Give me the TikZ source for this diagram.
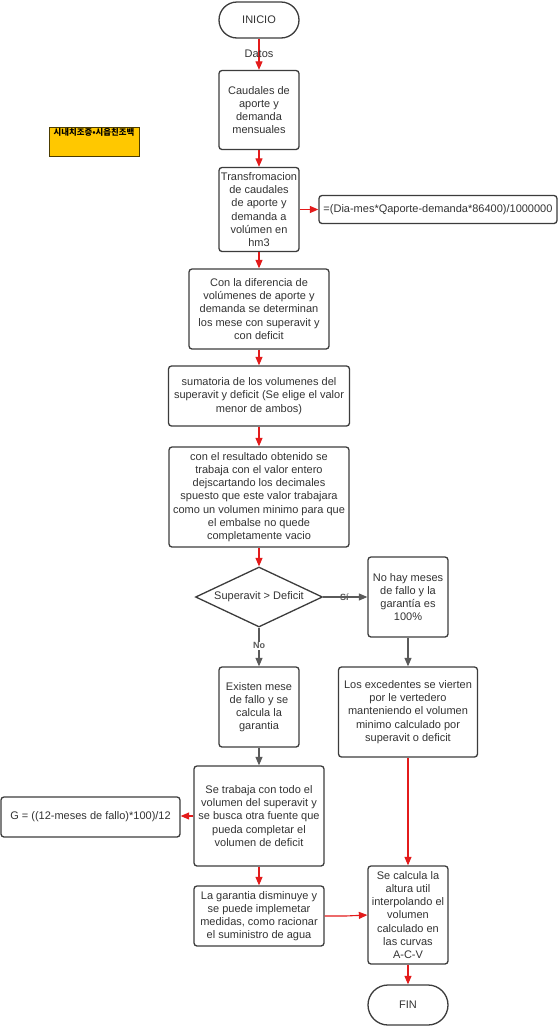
\documentclass[tikz,border=0pt]{standalone}
\usepackage{fontspec}
\setmainfont{Liberation Sans}
\newfontfamily\krfont{Noto Sans CJK KR}
\usetikzlibrary{arrows.meta,shapes.geometric}
\definecolor{redline}{HTML}{E31B1B}
\definecolor{grayline}{HTML}{5A5A5A}
\definecolor{boxline}{HTML}{3C3C3C}
\definecolor{txt}{HTML}{333333}
\definecolor{yel}{HTML}{FFC800}
\begin{document}
\begin{tikzpicture}[x=1pt,y=-1pt,
  box/.style={draw=boxline, line width=1.3pt, rounded corners=3pt, fill=white,
    align=center, font=\fontsize{11}{13.2}\selectfont, text=txt, inner sep=0pt},
  term/.style={box, rounded corners=18pt},
  decision/.style={box, shape=diamond, rounded corners=0pt, aspect=2.1},
  redarrow/.style={draw=redline, line width=1.1pt, -{Triangle[length=8.5pt,width=7pt]}},
  grayarrow/.style={draw=grayline, line width=1.1pt, -{Triangle[length=8.5pt,width=7pt]}},
  lbl/.style={font=\fontsize{11}{13}\selectfont, text=txt, inner sep=1pt},
  smalllbl/.style={font=\bfseries\fontsize{9}{10}\selectfont, text=grayline, inner sep=1pt},
  notebox/.style={draw=black!70!yel, line width=0.8pt, fill=yel, minimum width=90pt, minimum height=29pt, inner sep=0pt}
]
\useasboundingbox[fill=white] (0,0) rectangle (558,1026);

\node[term, minimum width=80pt, minimum height=36pt] (inicio) at (259,20) {INICIO};
\node[box, minimum width=80pt, minimum height=79pt] (caudales) at (259,110) {Caudales de\\aporte y\\demanda\\mensuales};
\node[box, minimum width=80pt, minimum height=84pt] (transf) at (259,209.5) {Transfromacion\\de caudales\\de aporte y\\demanda a\\vol\'umen en\\hm3};
\node[box, minimum width=238pt, minimum height=28pt] (formula) at (438,209.5) {=(Dia-mes*Qaporte-demanda*86400)/1000000};
\node[box, minimum width=140pt, minimum height=80pt] (dif) at (259,309) {Con la diferencia de\\vol\'umenes de aporte y\\demanda se determinan\\los mese con superavit y\\con deficit};
\node[box, minimum width=181pt, minimum height=60pt] (suma) at (259,396) {sumatoria de los volumenes del\\superavit y deficit (Se elige el valor\\menor de ambos)};
\node[box, minimum width=180pt, minimum height=100pt] (resultado) at (259,497) {con el resultado obtenido se\\trabaja con el valor entero\\dejscartando los decimales\\spuesto que este valor trabajara\\como un volumen minimo para que\\el embalse no quede\\completamente vacio};
\node[decision, minimum width=127pt, minimum height=60pt] (decision) at (259,597) {Superavit > Deficit};
\node[box, minimum width=80pt, minimum height=80pt] (nohay) at (408,597) {No hay meses\\de fallo y la\\garant\'ia es\\100\%};
\node[box, minimum width=80pt, minimum height=80pt] (existen) at (259,707) {Existen mese\\de fallo y se\\calcula la\\garantia};
\node[box, minimum width=139pt, minimum height=90pt] (excedentes) at (408,712) {Los excedentes se vierten\\por le vertedero\\manteniendo el volumen\\minimo calculado por\\superavit o deficit};
\node[box, minimum width=130pt, minimum height=100pt] (setrabaja) at (259,816) {Se trabaja con todo el\\volumen del superavit y\\se busca otra fuente que\\pueda completar el\\volumen de deficit};
\node[box, minimum width=179pt, minimum height=40pt] (gbox) at (90.5,817) {G = ((12-meses de fallo)*100)/12};
\node[box, minimum width=130pt, minimum height=60pt] (garantia) at (259,916) {La garantia disminuye y\\se puede implemetar\\medidas, como racionar\\el suministro de agua};
\node[box, minimum width=80pt, minimum height=98pt] (secalcula) at (408,915) {Se calcula la\\altura util\\interpolando el\\volumen\\calculado en\\las curvas\\A-C-V};
\node[term, minimum width=80pt, minimum height=40pt, rounded corners=20pt] (fin) at (408,1005) {FIN};

\node[notebox] (note) at (94,142) {};
\node[anchor=north, inner sep=0pt, font=\krfont\bfseries\fontsize{8.4}{9}\selectfont, text=black] (notetext) at ([yshift=-1.5pt]note.north) {시내치조증•시읍친조백};

\draw[redarrow] (inicio) -- (caudales) node[midway, lbl] {Datos};
\draw[redarrow] (caudales) -- (transf);
\draw[redarrow] (transf.east) -- (formula.west);
\draw[redarrow] (transf) -- (dif);
\draw[redarrow] (dif) -- (suma);
\draw[redarrow] (suma) -- (resultado);
\draw[redarrow] (resultado) -- (decision);
\draw[grayarrow] (decision.east) -- (nohay.west) node[pos=0.48, smalllbl] {S\'i};
\draw[grayarrow] (decision.south) -- (existen.north) node[pos=0.47, smalllbl, fill=white] {No};
\draw[grayarrow] (nohay.south) -- (nohay.south |- excedentes.north);
\draw[grayarrow] (existen) -- (setrabaja);
\draw[redarrow] (setrabaja.west) -- (setrabaja.west -| gbox.east);
\draw[redarrow] (setrabaja) -- (garantia);
\draw[redarrow] (excedentes.south -| secalcula.north) -- (secalcula.north);
\draw[redarrow] (garantia.east) -- ++(21,0) -- (secalcula.west);
\draw[redarrow] (secalcula) -- (fin);
\end{tikzpicture}
\end{document}
